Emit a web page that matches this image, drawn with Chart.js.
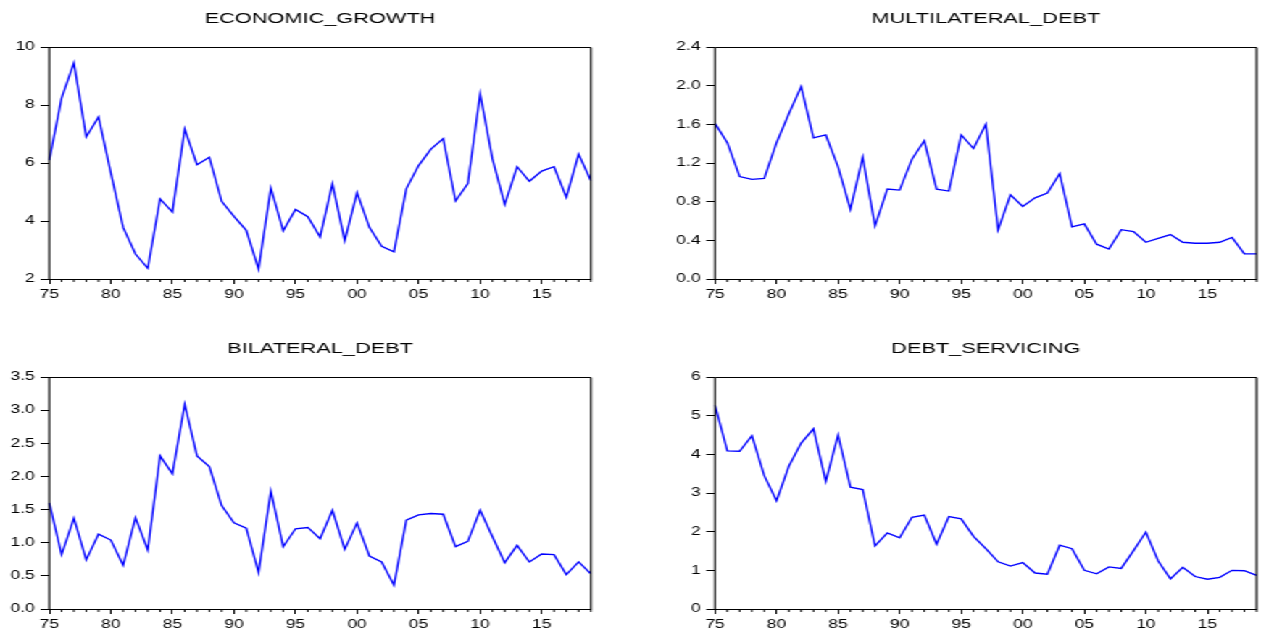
<!DOCTYPE html>
<html><head><meta charset="utf-8">
<script src="https://cdn.jsdelivr.net/npm/chart.js@4.4.1/dist/chart.umd.min.js"></script>
<style>
html,body{margin:0;padding:0;background:#fff;overflow:hidden;width:1261px;height:634px;}
#wrap{position:absolute;left:0;top:0;width:870px;height:634px;transform:scaleX(1.449425);transform-origin:0 0;}
.cell{position:absolute;width:435px;height:317px;}
</style></head><body>
<div id="wrap">
<div class="cell" style="left:0;top:0"><canvas id="c1"></canvas></div>
<div class="cell" style="left:435px;top:0"><canvas id="c2"></canvas></div>
<div class="cell" style="left:0;top:317px"><canvas id="c3"></canvas></div>
<div class="cell" style="left:435px;top:317px"><canvas id="c4"></canvas></div>
</div>
<script>
const years = [1975,1976,1977,1978,1979,1980,1981,1982,1983,1984,1985,1986,1987,1988,1989,1990,1991,1992,1993,1994,1995,1996,1997,1998,1999,2000,2001,2002,2003,2004,2005,2006,2007,2008,2009,2010,2011,2012,2013,2014,2015,2016,2017,2018,2019];
const xTickYears = [1975,1980,1985,1990,1995,2000,2005,2010,2015];

const economicGrowth = [6.1,8.24,9.45,6.9,7.59,5.66,3.78,2.86,2.37,4.76,4.31,7.17,5.94,6.2,4.68,4.16,3.68,2.34,5.14,3.66,4.4,4.15,3.45,5.29,3.32,4.98,3.78,3.13,2.94,5.11,5.91,6.48,6.84,4.69,5.29,8.39,6.14,4.57,5.87,5.37,5.72,5.87,4.82,6.3,5.39];
const multilateralDebt = [1.61,1.41,1.06,1.03,1.04,1.41,1.71,1.99,1.46,1.49,1.16,0.72,1.26,0.55,0.93,0.92,1.24,1.43,0.93,0.91,1.49,1.35,1.6,0.51,0.87,0.75,0.84,0.89,1.09,0.54,0.57,0.36,0.31,0.51,0.49,0.38,0.42,0.46,0.38,0.37,0.37,0.38,0.43,0.26,0.26];
const bilateralDebt = [1.6,0.82,1.37,0.74,1.13,1.04,0.66,1.38,0.89,2.31,2.04,3.09,2.31,2.15,1.56,1.3,1.22,0.55,1.78,0.94,1.21,1.23,1.06,1.49,0.9,1.3,0.8,0.71,0.36,1.34,1.42,1.44,1.43,0.94,1.02,1.49,1.09,0.70,0.96,0.71,0.83,0.82,0.52,0.71,0.53];
const debtServicing = [5.27,4.09,4.08,4.48,3.45,2.8,3.69,4.29,4.66,3.3,4.5,3.15,3.09,1.63,1.97,1.84,2.37,2.43,1.68,2.39,2.33,1.88,1.56,1.22,1.11,1.2,0.93,0.9,1.65,1.56,1.0,0.91,1.09,1.05,1.51,1.99,1.24,0.78,1.08,0.84,0.77,0.82,1.0,0.99,0.87];

const titles = ['ECONOMIC_GROWTH','MULTILATERAL_DEBT','BILATERAL_DEBT','DEBT_SERVICING'];
const yMin = [2, 0, 0, 0];
const yMax = [10, 2.4, 3.5, 6];
const yStep = [2, 0.4, 0.5, 1];
const yDecimals = [0, 1, 1, 0];

const FONT = '"Liberation Sans", Arial, Helvetica, sans-serif';

const framePlugin = {
  id: 'framePlugin',
  afterDraw(chart) {
    const ctx = chart.ctx, a = chart.chartArea, xs = chart.scales.x;
    ctx.save();
    ctx.strokeStyle = '#000';
    ctx.lineWidth = 1;
    ctx.beginPath();
    years.forEach((y, i) => {
      if (y % 5 !== 0) {
        const x = xs.getPixelForTick(i);
        ctx.moveTo(x, a.bottom);
        ctx.lineTo(x, a.bottom + 3);
      }
    });
    ctx.stroke();
    // horizontal frame edges
    ctx.beginPath();
    const top = Math.round(a.top) + 0.5, bot = Math.round(a.bottom) + 0.5;
    ctx.moveTo(a.left, top); ctx.lineTo(a.right, top);
    ctx.moveTo(a.left, bot); ctx.lineTo(a.right, bot);
    ctx.stroke();
    // vertical frame edges (slightly heavier to stay dark after horizontal stretch)
    ctx.lineWidth = 1.2;
    ctx.beginPath();
    ctx.moveTo(a.left, top); ctx.lineTo(a.left, bot);
    ctx.moveTo(a.right, top); ctx.lineTo(a.right, bot);
    ctx.stroke();
    ctx.restore();
  }
};

function makeChart(id, idx, data, pad) {
  new Chart(document.getElementById(id), {
    type: 'line',
    data: {
      labels: years,
      datasets: [{ data: data, borderColor: '#0000ff', borderWidth: 1.35, pointRadius: 0, tension: 0, fill: false }]
    },
    options: {
      responsive: true,
      maintainAspectRatio: false,
      animation: false,
      layout: { padding: pad },
      plugins: {
        legend: { display: false },
        tooltip: { enabled: false },
        title: {
          display: true, text: titles[idx], color: '#000', fullSize: false,
          font: { family: FONT, size: 15, weight: 'normal', lineHeight: 1.2 },
          padding: { top: 10, bottom: 19 }
        }
      },
      scales: {
        x: {
          type: 'category',
          offset: false,
          border: { display: false },
          grid: {
            drawOnChartArea: false, drawTicks: true, tickLength: 5,
            tickColor: (c) => (years[c.index] !== undefined && xTickYears.includes(years[c.index])) ? '#000' : 'rgba(0,0,0,0)'
          },
          ticks: {
            autoSkip: false, maxRotation: 0, minRotation: 0, padding: 3, color: '#000',
            font: { family: FONT, size: 12 },
            callback: (v, i) => xTickYears.includes(years[i]) ? String(years[i]).slice(2) : ''
          },
          afterFit: (s) => { s.height = 22; }
        },
        y: {
          min: yMin[idx], max: yMax[idx],
          border: { display: false },
          grid: { drawOnChartArea: false, drawTicks: true, tickLength: 6, tickColor: '#000' },
          ticks: {
            stepSize: yStep[idx], padding: 4, color: '#000',
            font: { family: FONT, size: 12 },
            callback: (v) => Number(v).toFixed(yDecimals[idx])
          },
          afterFit: (s) => { s.width = 34; }
        }
      }
    },
    plugins: [framePlugin]
  });
}

makeChart('c1', 0, economicGrowth, { left: 0, right: 27.3, top: 0, bottom: 16 });
makeChart('c2', 1, multilateralDebt, { left: 24.3, right: 2.8, top: 0, bottom: 16 });
makeChart('c3', 2, bilateralDebt, { left: 0, right: 27.3, top: 13, bottom: 3 });
makeChart('c4', 3, debtServicing, { left: 24.3, right: 2.8, top: 13, bottom: 3 });
</script>
</body></html>
